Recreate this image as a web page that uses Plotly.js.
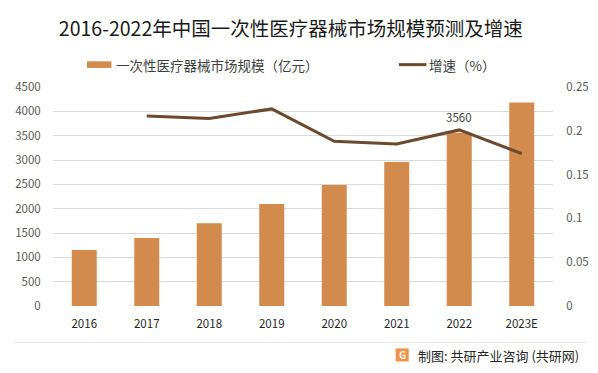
<!DOCTYPE html>
<html>
<head>
<meta charset="utf-8">
<script src="https://cdn.plot.ly/plotly-3.0.1.min.js"></script>
<style>
html,body{margin:0;padding:0;background:#fff;}
#chart{width:598px;height:373px;}
</style>
</head>
<body>
<div id="chart"></div>
<script>
// ---- data ----
const categories = ['2016','2017','2018','2019','2020','2021','2022','2023E'];
const marketSize = [1150, 1395, 1700, 2095, 2485, 2960, 3560, 4180];
const growthRate = [null, 0.217, 0.214, 0.225, 0.188, 0.185, 0.201, 0.174];
const barName = '一次性医疗器械市场规模（亿元）';
const lineName = '增速（%）';
const chartTitle = '2016-2022年中国一次性医疗器械市场规模预测及增速';
const sourceText = '制图: 共研产业咨询 (共研网)';
const labelIndex = 6; // 2022 labelled

// ---- geometry helpers (pixel -> paper) ----
const W = 598, H = 373;
const L = 53.3, R = 553.3, T = 87.3, B = 305.7;
const px = x => (x - L) / (R - L);
const py = y => (B - y) / (B - T);

const FONT = '"Noto Sans CJK SC", "Noto Sans", sans-serif';
const barColor = '#D38B4D';
const lineColor = '#6B4A30';

const traces = [
  {
    type: 'bar', x: categories, y: marketSize, name: barName,
    marker: {color: barColor}, width: 0.4, hoverinfo: 'skip', showlegend: false
  },
  {
    type: 'scatter', mode: 'lines', x: categories, y: growthRate, name: lineName,
    yaxis: 'y2', line: {color: lineColor, width: 3}, hoverinfo: 'skip', showlegend: false
  }
];

const annotations = [
  // data label (category index on the x axis)
  {x: labelIndex, y: marketSize[labelIndex], xref: 'x', yref: 'y',
   text: String(marketSize[labelIndex]), showarrow: false, yanchor: 'bottom', yshift: 6,
   font: {family: FONT, size: 11.5, color: '#404040'}},
  // legend texts
  {x: px(114), y: py(65), xref: 'paper', yref: 'paper', text: barName, showarrow: false,
   xanchor: 'left', yanchor: 'middle', font: {family: FONT, size: 13.5, color: '#404040'}},
  {x: px(427), y: py(65), xref: 'paper', yref: 'paper', text: lineName, showarrow: false,
   xanchor: 'left', yanchor: 'middle', font: {family: FONT, size: 13.5, color: '#404040'}},
  // source
  {x: px(416), y: py(355), xref: 'paper', yref: 'paper', text: sourceText, showarrow: false,
   xanchor: 'left', yanchor: 'middle', font: {family: FONT, size: 13, color: '#262626'}},
  {x: px(402.5), y: py(354.5), xref: 'paper', yref: 'paper', text: '<b>G</b>', showarrow: false,
   xanchor: 'center', yanchor: 'middle', font: {family: FONT, size: 10, color: '#ffffff'}}
];

const shapes = [
  // legend symbols
  {type: 'rect', xref: 'paper', yref: 'paper', x0: px(87.3), x1: px(111.7), y0: py(68.3), y1: py(61.7),
   fillcolor: barColor, line: {width: 0}},
  {type: 'line', xref: 'paper', yref: 'paper', x0: px(399.3), x1: px(426.7), y0: py(65), y1: py(65),
   line: {color: lineColor, width: 3}},
  // footer separator
  {type: 'line', xref: 'paper', yref: 'paper', x0: px(15), x1: px(586), y0: py(342), y1: py(342),
   line: {color: '#e3e3e3', width: 1}},
  // logo
  {type: 'rect', xref: 'paper', yref: 'paper', x0: px(396), x1: px(409), y0: py(361), y1: py(348),
   fillcolor: '#F39247', line: {width: 0}}
];

const layout = {
  width: W, height: H,
  margin: {l: L, r: W - R, t: T, b: H - B, pad: 0},
  paper_bgcolor: '#ffffff', plot_bgcolor: 'rgba(0,0,0,0)',
  font: {family: FONT, size: 11.5, color: '#595959'},
  title: {text: chartTitle, x: 290.8 / W, xanchor: 'center', y: 1 - 29 / H, yanchor: 'middle',
          xref: 'container', yref: 'container',
          font: {family: FONT, size: 19.5, color: '#1a1a1a'}},
  showlegend: false,
  bargap: 0.6,
  xaxis: {type: 'category', categoryarray: categories, categoryorder: 'array',
          range: [-0.5, categories.length - 0.5], autorange: false,
          showgrid: false, zeroline: false, showline: false,
          ticks: 'outside', ticklen: 7, tickcolor: 'rgba(0,0,0,0)',
          tickfont: {family: FONT, size: 11.5, color: '#262626'}, fixedrange: true},
  yaxis: {range: [0, 4500], autorange: false, dtick: 500, showgrid: true, gridcolor: '#d9d9d9', gridwidth: 1,
          zeroline: false, showline: false, ticks: 'outside', ticklen: 9, tickcolor: 'rgba(0,0,0,0)',
          tickfont: {family: FONT, size: 11.5, color: '#595959'}, fixedrange: true},
  yaxis2: {range: [0, 0.25], autorange: false, dtick: 0.05, overlaying: 'y', side: 'right', showgrid: false,
           zeroline: false, showline: false, ticks: 'outside', ticklen: 10, tickcolor: 'rgba(0,0,0,0)',
           tickfont: {family: FONT, size: 11.5, color: '#595959'}, fixedrange: true},
  annotations: annotations,
  shapes: shapes
};

Plotly.newPlot('chart', traces, layout, {displayModeBar: false, staticPlot: true});
</script>
</body>
</html>
